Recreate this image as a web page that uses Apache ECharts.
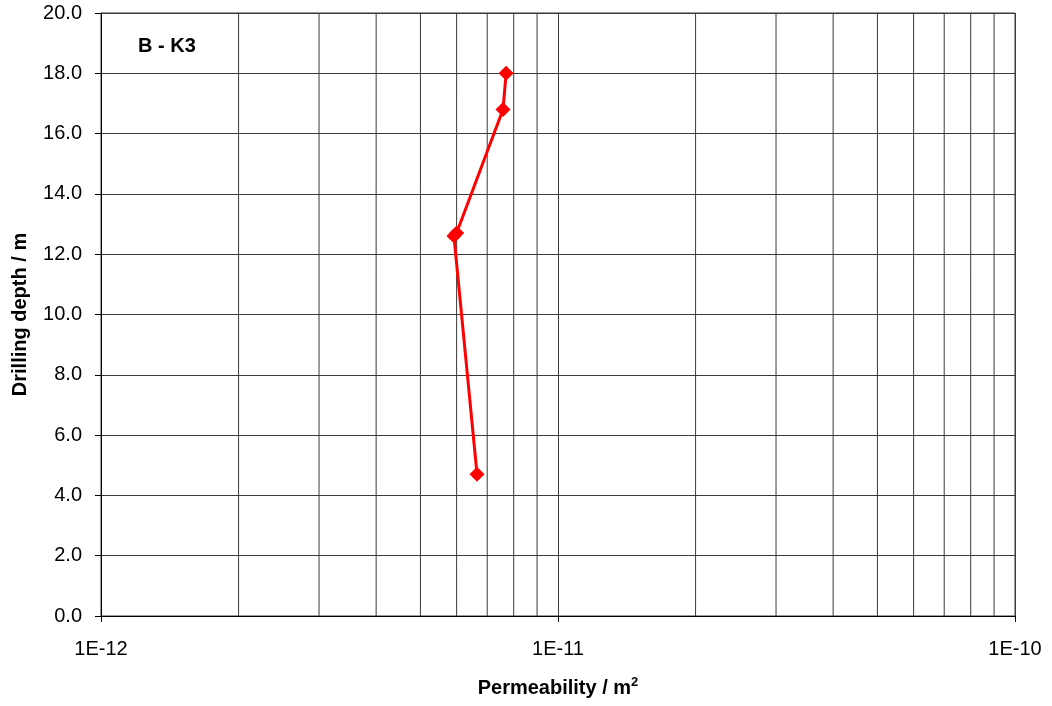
<!DOCTYPE html>
<html>
<head>
<meta charset="utf-8">
<script src="https://cdn.jsdelivr.net/npm/echarts@6/dist/echarts.min.js"></script>
<style>html,body{margin:0;padding:0;background:#fff}#c{width:1052px;height:706px}</style>
</head>
<body>
<div id="c"></div>
<script>
const permeability = [7.7e-12, 7.58e-12, 6.0e-12, 5.92e-12, 6.65e-12];
const depth = [18.0, 16.8, 12.7, 12.6, 4.7];
const minorGrid = [2e-12,3e-12,4e-12,5e-12,6e-12,7e-12,8e-12,9e-12,2e-11,3e-11,4e-11,5e-11,6e-11,7e-11,8e-11,9e-11];
const xMin = 1e-12, xMax = 1e-10;
const yMin = 0, yMax = 20, yStep = 2;
const boreLabel = 'B - K3';

const font = '"Liberation Sans", Arial, sans-serif';
const chart = echarts.init(document.getElementById('c'), null, {renderer: 'canvas'});

const gridSeries = minorGrid.map(v => ({
  type: 'line', silent: true, symbol: 'none', z: 1,
  data: [[v, yMin], [v, yMax]],
  lineStyle: {color: '#3a3a3a', width: 1},
  emphasis: {disabled: true}, tooltip: {show: false}
}));

chart.setOption({
  animation: false,
  backgroundColor: '#fff',
  grid: {left: 101, right: 37, top: 13, bottom: 90, show: true, borderColor: '#3a3a3a', borderWidth: 1},
  graphic: [{type: 'text', left: 138, top: 36, style: {text: boreLabel, font: 'bold 20px ' + font, fill: '#000'}}],
  xAxis: {
    type: 'log', min: xMin, max: xMax, logBase: 10,
    name: 'Permeability / m{sup|2}', nameLocation: 'middle', nameGap: 60,
    nameTextStyle: {fontFamily: font, fontWeight: 'bold', fontSize: 20, color: '#000',
      rich: {sup: {fontFamily: font, fontWeight: 'bold', fontSize: 13, color: '#000', verticalAlign: 'top', padding: [0,0,12,0]}}},
    axisLine: {onZero: false, lineStyle: {color: '#000', width: 1}},
    axisTick: {show: true, length: 6, lineStyle: {color: '#000'}},
    axisLabel: {margin: 23, fontFamily: font, fontSize: 20, color: '#000',
      formatter: v => '1E' + Math.round(Math.log10(v))},
    splitLine: {show: true, lineStyle: {color: '#3a3a3a', width: 1}}
  },
  yAxis: {
    type: 'value', min: yMin, max: yMax, interval: yStep,
    name: 'Drilling depth / m', nameLocation: 'middle', nameGap: 71, nameRotate: 90,
    nameTextStyle: {fontFamily: font, fontWeight: 'bold', fontSize: 20, color: '#000'},
    axisLine: {show: true, lineStyle: {color: '#000', width: 1}},
    axisTick: {show: true, length: 6, lineStyle: {color: '#000'}},
    axisLabel: {margin: 19, fontFamily: font, fontSize: 20, color: '#000', formatter: v => v.toFixed(1)},
    splitLine: {show: true, lineStyle: {color: '#3a3a3a', width: 1}}
  },
  series: gridSeries.concat([
    {
      type: 'line',
      data: permeability.map((p, i) => [p, depth[i]]),
      symbol: 'diamond', symbolSize: 15,
      lineStyle: {color: '#ff0000', width: 3},
      itemStyle: {color: '#ff0000'},
      z: 5
    }
  ])
});
</script>
</body>
</html>
